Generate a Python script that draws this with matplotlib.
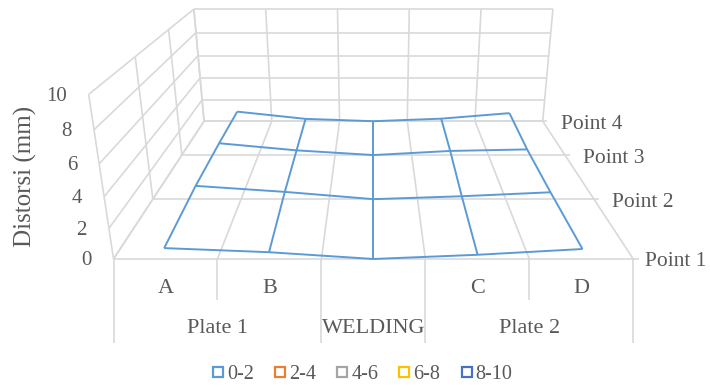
import numpy as np
import matplotlib
matplotlib.use('Agg')
import matplotlib.pyplot as plt
from mpl_toolkits.mplot3d import proj3d
from matplotlib.lines import Line2D

# ---------------- data ----------------
categories = ['A', 'B', '', 'C', 'D']
groups = ['Plate 1', 'WELDING', 'Plate 2']
group_sizes = [2, 1, 2]
series = ['Point 1', 'Point 2', 'Point 3', 'Point 4']
point1 = [0.72, 0.45, 0.0, 0.28, 0.66]
point2 = [1.00, 0.55, 0.0, 0.22, 0.52]
point3 = [1.00, 0.40, 0.0, 0.35, 0.48]
point4 = [0.90, 0.22, 0.0, 0.24, 0.76]
z_ticks = [0, 2, 4, 6, 8, 10]
bands = ['0-2', '2-4', '4-6', '6-8', '8-10']
band_colors = ['#5B9BD5', '#ED7D31', '#A5A5A5', '#FFC000', '#4472C4']

plt.rcParams['font.family'] = ['Liberation Serif', 'DejaVu Serif']
TXT = '#595959'
GRID = '#D9D9D9'

W, H = 710, 387
fig = plt.figure(figsize=(W / 100, H / 100), dpi=100)
fig.patch.set_facecolor('white')

ax = fig.add_axes([0.1, 0.1, 0.8, 0.8], projection='3d', computed_zorder=False)
nx, ny = len(categories), len(series)
ymax = ny - 1
zmax = z_ticks[-1]
ax.set_xlim(0, nx)
ax.set_ylim(0, ymax)
ax.set_zlim(0, zmax)
ax.set_box_aspect((1, 0.745, 0.334))
ax.view_init(elev=20, azim=-90)
ax.set_proj_type('persp', focal_length=0.2365)
ax.set_axis_off()
ax.patch.set_visible(False)

glw = 1.2
def gline(xs, ys, zs):
    ax.plot(xs, ys, zs, color=GRID, lw=glw, zorder=1, clip_on=False,
            solid_capstyle='butt')

# floor
for xb in range(nx + 1):
    gline([xb, xb], [0, ymax], [0, 0])
for yb in range(ny):
    gline([0, nx + 0.06], [yb, yb], [0, 0])
# back wall
for z in z_ticks:
    gline([0, nx], [ymax, ymax], [z, z])
for xb in range(nx + 1):
    gline([xb, xb], [ymax, ymax], [0, zmax])
# left wall
for z in z_ticks:
    gline([0, 0], [0, ymax], [z, z])
for yb in range(ny):
    gline([0, 0], [yb, yb], [0, zmax])

# surface (wireframe)
X, Y = np.meshgrid(np.arange(nx) + 0.5, np.arange(ny))
Z = np.array([point1, point2, point3, point4])
wf = ax.plot_wireframe(X, Y, Z, color=band_colors[0], linewidth=1.4, zorder=3)
wf.set_clip_on(False)

# ---------- align the 3D box with the reference layout ----------
fig.canvas.draw()

def to_px(x, y, z):
    M = ax.get_proj()
    px, py, _ = proj3d.proj_transform(np.atleast_1d(np.asarray(x, float)),
                                      np.atleast_1d(np.asarray(y, float)),
                                      np.atleast_1d(np.asarray(z, float)), M)
    return ax.transData.transform(np.column_stack([px, py]))

ref3d = np.array([(0, 0, 0), (nx, 0, 0), (0, ymax, 0), (nx, ymax, 0),
                  (0, ymax, zmax), (nx, ymax, zmax), (0, 0, zmax)], float)
tgt = np.array([(113, 258), (635, 258), (203, 122), (543, 121),
                (195, 11), (552, 11), (88, 92)], float)
tgt[:, 1] = H - tgt[:, 1]
cur = to_px(ref3d[:, 0], ref3d[:, 1], ref3d[:, 2])
A = np.zeros((2 * len(cur), 3))
b = np.zeros(2 * len(cur))
A[0::2, 0] = cur[:, 0]; A[0::2, 1] = 1; b[0::2] = tgt[:, 0]
A[1::2, 0] = cur[:, 1]; A[1::2, 2] = 1; b[1::2] = tgt[:, 1]
(sc, bx, by), *_ = np.linalg.lstsq(A, b, rcond=None)
pos = ax.get_position()
x0, y0 = pos.x0 * W, pos.y0 * H
w0, h0 = pos.width * W, pos.height * H
ax.set_position([(sc * x0 + bx) / W, (sc * y0 + by) / H,
                 sc * w0 / W, sc * h0 / H])
fig.canvas.draw()

# ---------- z tick labels ----------
for z in z_ticks:
    p = to_px(0, 0, z)[0]
    fig.text((p[0] - 22) / W, (p[1] - 2) / H, str(z), ha='right', va='center',
             fontsize=15, color=TXT)

# ---------- series labels ----------
for i, s in enumerate(series):
    p = to_px(nx, i, 0)[0]
    gap = 18 if i else 12
    fig.text((p[0] + gap) / W, (p[1] - 3) / H, s, ha='left', va='center',
             fontsize=15.5, color=TXT)

# ---------- axis title ----------
fig.text(25 / W, 1 - 176 / H, 'Distorsi (mm)', rotation=90, ha='center',
         va='center', fontsize=18, color=TXT)

# ---------- multi-level category band ----------
pl = to_px(0, 0, 0)[0]
pr = to_px(nx, 0, 0)[0]
band_h = 84
bax = fig.add_axes([pl[0] / W, (pl[1] - band_h) / H,
                    (pr[0] - pl[0]) / W, band_h / H])
bax.set_xlim(0, nx)
bax.set_ylim(1, 0)
bax.axis('off')
full = set(np.concatenate([[0], np.cumsum(group_sizes)]).tolist())
for xb in range(nx + 1):
    bax.plot([xb, xb], [0, 1.0 if xb in full else 0.49], color=GRID,
             lw=glw, clip_on=False, solid_capstyle='butt')
for i, c in enumerate(categories):
    bax.text(i + 0.5, 0.35, c, ha='center', va='center', fontsize=16, color=TXT)
starts = np.concatenate([[0], np.cumsum(group_sizes)[:-1]])
for g, s0, n in zip(groups, starts, group_sizes):
    bax.text(s0 + n / 2, 0.83, g, ha='center', va='center', fontsize=16, color=TXT)

# ---------- legend ----------
handles = [Line2D([], [], marker='s', ls='none', markersize=7,
                  markerfacecolor='white', markeredgecolor=c,
                  markeredgewidth=1.6) for c in band_colors]
fig.legend(handles, bands, loc='center', bbox_to_anchor=(0.51, 0.032),
           ncol=5, frameon=False, fontsize=14.5, handlelength=0.6,
           handletextpad=0.15, columnspacing=1.0, borderaxespad=0,
           labelcolor=TXT)

fig.savefig('out.png', dpi=100, facecolor='white')
